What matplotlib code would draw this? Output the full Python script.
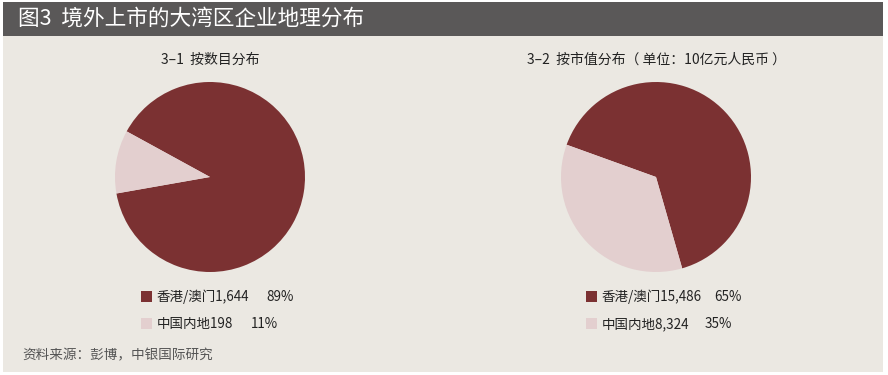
import numpy as np
import matplotlib
matplotlib.use("Agg")
from matplotlib import pyplot as plt
from matplotlib.patches import Rectangle

plt.rcParams['font.family'] = ['Noto Sans CJK SC', 'DejaVu Sans']

# data
labels = ['香港/澳门', '中国内地']
count_values = [1644, 198]
count_pcts = ['89%', '11%']
mcap_values = [15486, 8324]
mcap_pcts = ['65%', '35%']
colors = ['#7b3132', '#e3cfcf']

W, H = 888, 375
fig = plt.figure(figsize=(W / 100, H / 100), dpi=100)
fig.patch.set_facecolor('white')


def fx(x):
    return x / W


def fy(y):
    return 1 - y / H


# background + header bar
fig.add_artist(Rectangle((fx(3), fy(372)), fx(880), 336 / H, transform=fig.transFigure,
                         facecolor='#ebe8e2', edgecolor='none', zorder=0))
fig.add_artist(Rectangle((fx(3), fy(36)), fx(880), 34 / H, transform=fig.transFigure,
                         facecolor='#5a5858', edgecolor='none', zorder=0))
fig.text(fx(18), fy(19), '图3  境外上市的大湾区企业地理分布', color='white', fontsize=15.6,
         va='center', ha='left')


def draw_pie(cx, title, values, pcts, start, leg_x, pct_x):
    r = 95
    ax = fig.add_axes([fx(cx - r), fy(177 + r), 2 * r / W, 2 * r / H])
    ax.pie(values, colors=colors, startangle=start, counterclock=True,
           wedgeprops=dict(linewidth=0))
    ax.set_xlim(-1, 1)
    ax.set_ylim(-1, 1)
    ax.set_aspect('equal')
    ax.axis('off')
    fig.text(fx(cx), fy(60), title, fontsize=10, ha='center', va='center', color='#222222')
    for i, (lab, v, p) in enumerate(zip(labels, values, pcts)):
        y = 297 + i * 27
        fig.add_artist(Rectangle((fx(leg_x), fy(y + 5)), 11 / W, 11 / H, transform=fig.transFigure,
                                 facecolor=colors[i], edgecolor='none'))
        fig.text(fx(leg_x + 16), fy(y), f'{lab}{v:,}', fontsize=9.7, va='center', ha='left',
                 color='#222222')
        fig.text(fx(pct_x[i]), fy(y), p, fontsize=9.7, va='center', ha='left', color='#222222')


draw_pie(210, '3–1  按数目分布', count_values, count_pcts, 190, 141, [266, 251])
draw_pie(656, '3–2  按市值分布（ 单位：10亿元人民币 ）', mcap_values, mcap_pcts, 286, 586, [714, 705])

fig.text(fx(22), fy(355), '资料来源：彭博，中银国际研究', fontsize=9.8, va='center', ha='left',
         color='#555555')

fig.savefig('out.png', dpi=100, facecolor=fig.get_facecolor())
